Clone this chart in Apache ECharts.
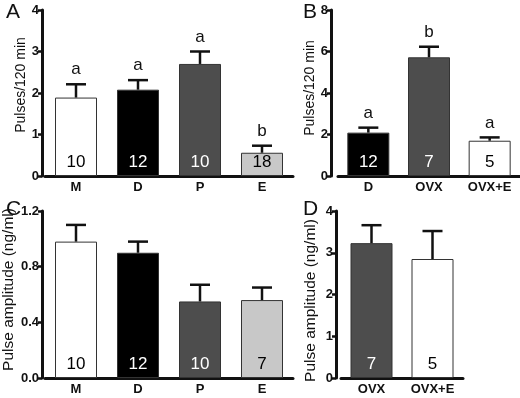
<!DOCTYPE html>
<html>
<head>
<meta charset="utf-8">
<script src="https://cdn.jsdelivr.net/npm/echarts@6/dist/echarts.min.js"></script>
<style>
  html, body { margin: 0; padding: 0; background: #fff; }
  #chart { width: 520px; height: 398px; }
</style>
</head>
<body>
<div id="chart"></div>
<script>
// Panel A: pulses by cycle stage
const catsA = ['M', 'D', 'P', 'E'];
const pulsesA = [1.89, 2.08, 2.70, 0.56];
const semA = [0.32, 0.23, 0.30, 0.17];
const nA = [10, 12, 10, 18];
const letA = ['a', 'a', 'a', 'b'];

// Panel B: pulses D vs OVX
const catsB = ['D', 'OVX', 'OVX+E'];
const pulsesB = [2.09, 5.72, 1.70];
const semB = [0.24, 0.51, 0.16];
const nB = [12, 7, 5];
const letB = ['a', 'b', 'a'];

// Panel C: amplitude by cycle stage
const catsC = ['M', 'D', 'P', 'E'];
const ampC = [0.98, 0.90, 0.55, 0.56];
const semC = [0.12, 0.08, 0.12, 0.09];
const nC = [10, 12, 10, 7];

// Panel D: amplitude OVX
const catsD = ['OVX', 'OVX+E'];
const ampD = [3.23, 2.85];
const semD = [0.43, 0.67];
const nD = [7, 5];

const FONT = '"Liberation Sans", Arial, sans-serif';
const INK = '#111';
const fills = { 'M': '#ffffff', 'D': '#000000', 'P': '#4d4d4d', 'E': '#c8c8c8', 'OVX': '#4d4d4d', 'OVX+E': '#ffffff' };
const darkFill = { 'D': true, 'P': true, 'OVX': true };

function barData(cats, vals, ns) {
    return vals.map((v, i) => ({
        value: v,
        itemStyle: { color: fills[cats[i]] },
        label: { formatter: String(ns[i]), color: darkFill[cats[i]] ? '#fff' : '#000' }
    }));
}

function errData(vals, sems) {
    return vals.map((v, i) => [i, v, v + sems[i]]);
}

function errRenderer(letters) {
    return function (params, api) {
        const i = api.value(0);
        const m = api.coord([i, api.value(1)]);
        const t = api.coord([i, api.value(2)]);
        const st = { stroke: INK, lineWidth: 2.5 };
        const children = [
            { type: 'line', shape: { x1: m[0], y1: m[1], x2: t[0], y2: t[1] }, style: st },
            { type: 'line', shape: { x1: t[0] - 10, y1: t[1], x2: t[0] + 10, y2: t[1] }, style: st }
        ];
        if (letters) {
            children.push({
                type: 'text',
                style: {
                    text: letters[params.dataIndex], x: t[0], y: t[1] - 6,
                    align: 'center', verticalAlign: 'bottom',
                    fontSize: 17, fontFamily: FONT, fill: INK
                }
            });
        }
        return { type: 'group', children: children };
    };
}

function xAx(gi, cats) {
    return {
        type: 'category', gridIndex: gi, data: cats,
        axisLine: { lineStyle: { color: INK, width: 3 } },
        axisTick: { alignWithLabel: true, length: 3, lineStyle: { color: INK, width: 2.5 } },
        axisLabel: { color: INK, fontWeight: 'bold', fontSize: 13, fontFamily: FONT, margin: 5 }
    };
}

// namePad nudges the rotated name along the axis: [0, down*2, 0, up*2]
function yAx(gi, max, interval, name, nameGap, nameSize, namePad, offset, digits) {
    return {
        type: 'value', gridIndex: gi, min: 0, max: max, interval: interval, offset: offset,
        name: name, nameLocation: 'middle', nameGap: nameGap,
        nameTextStyle: { color: INK, fontSize: nameSize, fontFamily: FONT, padding: namePad },
        axisLine: { show: true, lineStyle: { color: INK, width: 3 } },
        axisTick: { show: true, length: 4, lineStyle: { color: INK, width: 2.5 } },
        axisLabel: {
            color: INK, fontWeight: 'bold', fontSize: 13, fontFamily: FONT, margin: 3,
            formatter: v => v.toFixed(digits)
        },
        splitLine: { show: false }
    };
}

function barSeries(idx, cats, vals, ns) {
    return {
        type: 'bar', xAxisIndex: idx, yAxisIndex: idx, barWidth: 42,
        data: barData(cats, vals, ns),
        itemStyle: { borderColor: '#333', borderWidth: 1 },
        label: { show: true, position: 'insideBottom', distance: 5, fontSize: 17, fontFamily: FONT },
        animation: false
    };
}

function errSeries(idx, vals, sems, letters) {
    return {
        type: 'custom', xAxisIndex: idx, yAxisIndex: idx, z: 5,
        renderItem: errRenderer(letters),
        data: errData(vals, sems),
        animation: false
    };
}

const panelTitle = (t, left, top) => ({
    text: t, left: left, top: top,
    textStyle: { fontSize: 21, fontWeight: 'normal', color: INK, fontFamily: FONT }
});

const myChart = echarts.init(document.getElementById('chart'));
const option = {
    backgroundColor: '#fff',
    title: [
        panelTitle('A', 1, -3),
        panelTitle('B', 298, -3),
        panelTitle('C', 1, 194),
        panelTitle('D', 298, 194)
    ],
    grid: [
        { left: 45, top: 10, width: 248, height: 166 },
        { left: 338, top: 10, width: 187.5, height: 166 },
        { left: 45, top: 211, width: 248, height: 167 },
        { left: 341, top: 211, width: 122, height: 167 }
    ],
    xAxis: [xAx(0, catsA), xAx(1, catsB), xAx(2, catsC), xAx(3, catsD)],
    yAxis: [
        yAx(0, 4, 1, 'Pulses/120 min', 11, 14, [0, 0, 0, 16], 3, 0),
        yAx(1, 8, 2, 'Pulses/120 min', 10, 14, [0, 0, 0, 10], 7, 0),
        yAx(2, 1.2, 0.4, 'Pulse amplitude (ng/ml)', 25, 15.5, [0, 0, 0, 10], 3, 1),
        yAx(3, 4, 1, 'Pulse amplitude (ng/ml)', 17, 15.5, [0, 12, 0, 0], 5, 0)
    ],
    series: [
        barSeries(0, catsA, pulsesA, nA),
        errSeries(0, pulsesA, semA, letA),
        barSeries(1, catsB, pulsesB, nB),
        errSeries(1, pulsesB, semB, letB),
        barSeries(2, catsC, ampC, nC),
        errSeries(2, ampC, semC, null),
        barSeries(3, catsD, ampD, nD),
        errSeries(3, ampD, semD, null)
    ]
};
myChart.setOption(option);
</script>
</body>
</html>
